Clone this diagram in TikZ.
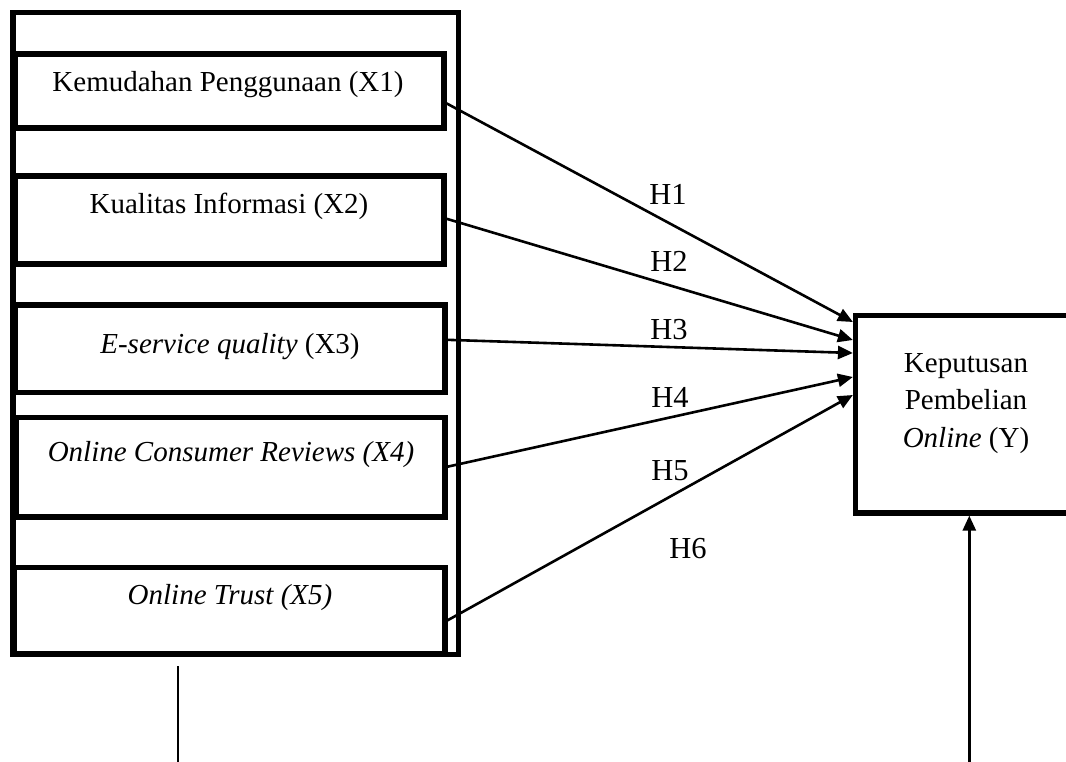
\documentclass[tikz,border=0pt]{standalone}
\usepackage{fontspec}
\setmainfont{Liberation Serif}
\usetikzlibrary{arrows.meta,calc}
\tikzset{
  box/.style={draw, line width=5.2pt, inner sep=0pt, outer sep=0pt, anchor=north west, fill=none},
  btext/.style={anchor=base, inner sep=0pt, font=\fontsize{29}{35}\selectfont},
  hlab/.style={anchor=base, inner sep=0pt, font=\fontsize{30.5}{36}\selectfont},
  conn/.style={line width=2.6pt, -{Triangle[length=15pt,width=13pt]}},
}
\begin{document}
\begin{tikzpicture}[x=1pt,y=-1pt]
\useasboundingbox (0,0) rectangle (1066,762);
% outer frame
\node[box, minimum width=445.5pt, minimum height=642pt] (outer) at (13,12.5) {};
% inner boxes
\node[box, minimum width=429pt, minimum height=74pt]   (x1) at (15,54) {};
\node[box, minimum width=429pt, minimum height=88pt]   (x2) at (15,176) {};
\node[box, minimum width=430pt, minimum height=87.5pt] (x3) at (15,305) {};
\node[box, minimum width=429pt, minimum height=99.5pt] (x4) at (16,417.5) {};
\node[box, minimum width=431pt, minimum height=86.5pt] (x5) at (14,567.5) {};
% texts
\node[btext] (t1) at (228,92)  {Kemudahan Penggunaan (X1)};
\node[btext] (t2) at (229,214) {Kualitas Informasi (X2)};
\node[btext] (t3) at (230,353) {\textit{E-service quality} (X3)};
\node[btext] (t4) at (231,461) {\textit{Online Consumer Reviews (X4)}};
\node[btext] (t5) at (230,604) {\textit{Online Trust (X5)}};
% dependent box
\node[box, minimum width=219.5pt, minimum height=197.5pt] (y) at (855.5,315.5) {};
\node[btext] (y1) at (966,372)   {Keputusan};
\node[btext] (y2) at (966,409.5) {Pembelian};
\node[btext] (y3) at (966,447)   {\textit{Online} (Y)};
% connectors
\draw[conn] ($(x1.east)+(0,11)$)  -- ($(y.north west)+(-2.6,6.5)$);
\draw[conn] ($(x2.east)+(0,-2)$)  -- ($(y.north west)+(-2.6,24.5)$);
\draw[conn] ($(x3.east)+(0,-9)$)  -- ($(y.north west)+(-2.6,37.5)$);
\draw[conn] ($(x4.east)+(0,0)$)   -- ($(y.north west)+(-2.6,61.5)$);
\draw[conn] ($(x5.east)+(0,11)$)  -- ($(y.north west)+(-2.6,79.5)$);
% hypothesis labels
\node[hlab] (h1) at (668,205) {H1};
\node[hlab] (h2) at (669,272) {H2};
\node[hlab] (h3) at (669,339) {H3};
\node[hlab] (h4) at (670,407) {H4};
\node[hlab] (h5) at (670,480) {H5};
\node[hlab] (h6) at (688,558) {H6};
% bottom lines
\coordinate (la) at (178,666);
\coordinate (lb) at (178,770);
\draw[line width=1.8pt] (la) -- (lb);
\coordinate (ra) at (969.3,770);
\draw[conn] (ra) -- ($(y.south west)+(113.8,2.6)$);
\end{tikzpicture}
\end{document}
